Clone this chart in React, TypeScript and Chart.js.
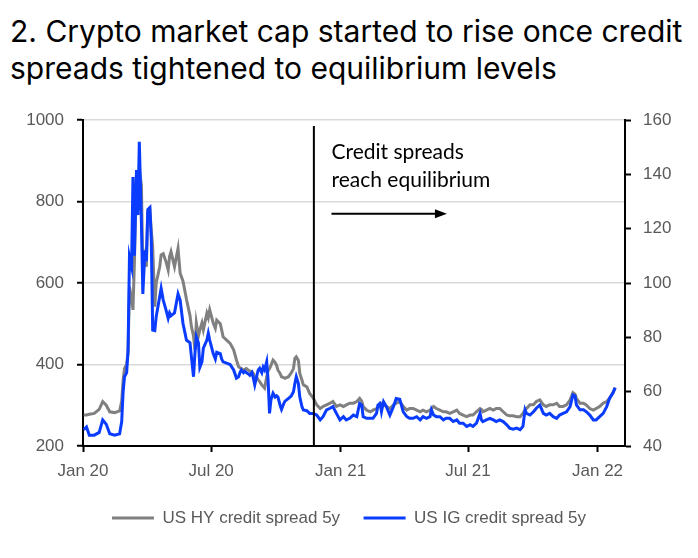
import React, { useEffect, useRef } from "react";
import { Chart, registerables } from "chart.js";

Chart.register(...registerables);

const TITLE_LINES = [
  "2. Crypto market cap started to rise once credit",
  "spreads tightened to equilibrium levels",
];
const HY_LABEL = "US HY credit spread 5y";
const IG_LABEL = "US IG credit spread 5y";

const dates = [
  "2020-01-02","2020-01-06","2020-01-10","2020-01-17","2020-01-24","2020-01-29","2020-02-03","2020-02-08",
  "2020-02-15","2020-02-22","2020-02-25","2020-02-27","2020-02-29","2020-03-03","2020-03-05","2020-03-07",
  "2020-03-10","2020-03-12","2020-03-14","2020-03-17","2020-03-19","2020-03-21","2020-03-24","2020-03-26",
  "2020-03-29","2020-03-31","2020-04-02","2020-04-05","2020-04-07","2020-04-09","2020-04-12","2020-04-14",
  "2020-04-19","2020-04-21","2020-04-24","2020-04-28","2020-05-01","2020-05-03","2020-05-05","2020-05-10",
  "2020-05-15","2020-05-18","2020-05-22","2020-05-27","2020-06-01","2020-06-03","2020-06-06","2020-06-08",
  "2020-06-10","2020-06-13","2020-06-15","2020-06-18","2020-06-20","2020-06-25","2020-06-27","2020-06-29",
  "2020-07-04","2020-07-07","2020-07-09","2020-07-14","2020-07-16","2020-07-18","2020-07-23","2020-07-28",
  "2020-08-02","2020-08-06","2020-08-09","2020-08-11","2020-08-13","2020-08-16","2020-08-18","2020-08-20",
  "2020-08-23","2020-08-25","2020-08-28","2020-08-30","2020-09-01","2020-09-04","2020-09-06","2020-09-08",
  "2020-09-11","2020-09-13","2020-09-15","2020-09-18","2020-09-20","2020-09-22","2020-09-24","2020-09-27",
  "2020-09-30","2020-10-02","2020-10-04","2020-10-07","2020-10-09","2020-10-12","2020-10-14","2020-10-19",
  "2020-10-21","2020-10-23","2020-10-26","2020-10-28","2020-10-30","2020-11-02","2020-11-04","2020-11-07",
  "2020-11-09","2020-11-14","2020-11-18","2020-11-23","2020-11-28","2020-12-03","2020-12-07","2020-12-12",
  "2020-12-17","2020-12-21","2020-12-26","2020-12-31","2021-01-05","2021-01-09","2021-01-14","2021-01-19",
  "2021-01-24","2021-01-28","2021-01-31","2021-02-02","2021-02-07","2021-02-12","2021-02-16","2021-02-21",
  "2021-02-23","2021-02-26","2021-02-28","2021-03-03","2021-03-07","2021-03-12","2021-03-17","2021-03-21",
  "2021-03-26","2021-03-31","2021-04-05","2021-04-09","2021-04-14","2021-04-19","2021-04-24","2021-04-28",
  "2021-05-03","2021-05-08","2021-05-10","2021-05-13","2021-05-17","2021-05-22","2021-05-27","2021-05-31",
  "2021-06-05","2021-06-10","2021-06-15","2021-06-19","2021-06-24","2021-06-29","2021-07-04","2021-07-08",
  "2021-07-13","2021-07-18","2021-07-20","2021-07-22","2021-07-27","2021-08-01","2021-08-06","2021-08-10",
  "2021-08-15","2021-08-20","2021-08-25","2021-08-29","2021-09-03","2021-09-08","2021-09-13","2021-09-17",
  "2021-09-20","2021-09-22","2021-09-27","2021-10-02","2021-10-06","2021-10-11","2021-10-16","2021-10-20",
  "2021-10-25","2021-10-30","2021-11-04","2021-11-08","2021-11-13","2021-11-18","2021-11-23","2021-11-27",
  "2021-11-30","2021-12-02","2021-12-07","2021-12-12","2021-12-16","2021-12-21","2021-12-26","2021-12-30",
  "2022-01-04","2022-01-09","2022-01-14","2022-01-18","2022-01-23","2022-01-26",
];

const hySpread = [
  276,276,278,280,290,309,300,284,
  282,286,310,362,390,400,430,591,
  560,534,649,870,800,877,840,632,
  665,640,772,780,730,689,542,600,
  640,669,672,652,632,665,677,640,
  685,624,605,560,520,493,470,436,
  502,470,485,502,485,526,515,534,
  502,489,509,500,485,468,460,452,
  436,411,395,392,390,386,388,390,
  386,384,382,378,370,368,362,358,
  350,346,342,370,385,390,398,411,
  405,398,386,378,370,368,366,370,
  375,380,390,415,419,410,378,362,
  350,345,329,318,301,292,297,301,
  305,309,297,301,297,301,305,305,
  309,317,310,297,288,284,288,292,
  295,305,303,301,297,292,301,305,
  309,297,288,292,292,288,284,288,
  284,288,292,297,292,288,284,284,
  280,284,288,280,276,272,276,276,
  284,292,290,284,288,292,288,292,
  292,284,276,274,274,272,272,280,
  288,292,301,301,309,313,301,297,
  301,301,305,297,297,301,313,331,
  327,317,305,305,301,292,288,292,
  297,305,309,317,331,343,
];

const igSpread = [
  46,47,44,44,45,49.6,48,44.5,
  44,44.5,49,60,65.5,67,75,109.7,
  106,139,110,141.6,125,152,122,96,
  112,108,127,127.8,116,82.7,82.5,87.6,
  95,98,93.7,90,87,89,88,89,
  96,93.7,85.2,79,78,72.9,65.5,74,
  80.2,78,69,71,76,79,81.5,79,
  74,72,74.5,74,72,71,70.5,70,
  68,65,65.5,67,68,67,67.5,67,
  66.5,66,67,65,62.5,66,68,68.6,
  67,69,68,71,64,52,57,59.4,
  58,58.5,58,55,53.5,55.5,56.5,57.5,
  58,58.5,60,63,65.5,63,58,54.5,
  53.3,53,52,52,51.4,49.6,50.8,53.3,
  53.9,54.5,52,49.6,50.8,49.6,50.2,51.4,
  50.8,55.7,55.1,50.8,50.2,50.2,50.2,52,
  55.1,55.7,52.6,56.3,54.5,51.4,54.5,57.5,
  57.2,52.6,50.8,50.2,50.2,50.8,49.6,50.8,
  50.2,50.8,53.3,51.4,50.8,50.8,49.6,50.2,
  50.2,49,49.6,48.4,48.4,47.2,47.8,47.2,
  48.4,52,49.6,49,49.6,50.2,49.6,49,
  49.6,49,47.8,46.6,46.2,46.6,46,47.2,
  53.3,52,51.4,52.6,53.9,55.1,52,51.4,
  52,50.8,50.2,51.4,52,52.6,54.5,58.8,
  58.4,55.1,53.3,53.3,52.6,51.4,49.6,49.6,
  50.8,52,54.5,57.5,59.6,61.5,
];

const X_TICK_DATES = ["2020-01-01", "2020-07-01", "2021-01-01", "2021-07-01", "2022-01-01"];
const X_TICK_LABELS = ["Jan 20", "Jul 20", "Jan 21", "Jul 21", "Jan 22"];
const X_START_DATE = "2020-01-01";
const X_END_DATE = "2022-02-09";
const LEFT_MIN = 200;
const LEFT_MAX = 1000;
const LEFT_STEP = 200;
const RIGHT_MIN = 40;
const RIGHT_MAX = 160;
const RIGHT_STEP = 20;

const EVENT_DATE = "2020-11-24";
const EVENT_TOP_VALUE = 985;
const NOTE_LINES = ["Credit spreads", "reach equilibrium"];
const NOTE_DATE = "2020-12-19";
const NOTE_VALUES = [922, 852];
const ARROW_VALUE = 770;
const ARROW_END_DATE = "2021-06-01";

const DAY_MS = 86400000;
const dayOf = (s: string) => (Date.parse(s) - Date.parse(X_START_DATE)) / DAY_MS;

const TICK_FONT = "'Liberation Sans', Arial, sans-serif";
const TICK_SIZE = 17;
const GREY_TEXT = "#595959";
const HY_COLOR = "#808080";
const IG_COLOR = "#0a3cff";

const notePlugin = {
  id: "equilibriumNote",
  afterDatasetsDraw(chart: any) {
    const { ctx } = chart;
    const xs = chart.scales.x;
    const ys = chart.scales.y;
    ctx.save();
    const xe = xs.getPixelForValue(dayOf(EVENT_DATE));
    ctx.strokeStyle = "#000";
    ctx.lineWidth = 2;
    ctx.beginPath();
    ctx.moveTo(xe, ys.getPixelForValue(EVENT_TOP_VALUE));
    ctx.lineTo(xe, ys.getPixelForValue(LEFT_MIN));
    ctx.stroke();

    const xa = xs.getPixelForValue(dayOf(NOTE_DATE));
    ctx.fillStyle = "#000";
    ctx.font = "21px Lato, 'Open Sans', sans-serif";
    ctx.textAlign = "left";
    ctx.textBaseline = "middle";
    NOTE_LINES.forEach((t, i) => ctx.fillText(t, xa, ys.getPixelForValue(NOTE_VALUES[i])));

    const ya = ys.getPixelForValue(ARROW_VALUE);
    const xb = xs.getPixelForValue(dayOf(ARROW_END_DATE));
    ctx.lineWidth = 2;
    ctx.beginPath();
    ctx.moveTo(xa, ya);
    ctx.lineTo(xb - 10, ya);
    ctx.stroke();
    ctx.beginPath();
    ctx.moveTo(xb, ya);
    ctx.lineTo(xb - 12, ya - 4.5);
    ctx.lineTo(xb - 12, ya + 4.5);
    ctx.closePath();
    ctx.fill();
    ctx.restore();
  },
};

export default function App() {
  const ref = useRef<HTMLCanvasElement | null>(null);

  useEffect(() => {
    if (!ref.current) return;
    const xVals = dates.map(dayOf);
    const chart = new Chart(ref.current, {
      type: "line",
      data: {
        datasets: [
          {
            label: HY_LABEL,
            data: xVals.map((x, i) => ({ x, y: hySpread[i] })),
            borderColor: HY_COLOR,
            backgroundColor: HY_COLOR,
            borderWidth: 3,
            pointRadius: 0,
            tension: 0,
            yAxisID: "y",
            order: 1,
          },
          {
            label: IG_LABEL,
            data: xVals.map((x, i) => ({ x, y: igSpread[i] })),
            borderColor: IG_COLOR,
            backgroundColor: IG_COLOR,
            borderWidth: 3,
            pointRadius: 0,
            tension: 0,
            yAxisID: "y1",
            order: 0,
          },
        ],
      },
      options: {
        animation: false,
        responsive: false,
        maintainAspectRatio: false,
        layout: { padding: { top: 24, left: 0, right: 0, bottom: 11.5 } },
        plugins: {
          tooltip: { enabled: false },
          legend: {
            position: "bottom",
            labels: {
              boxWidth: 42,
              boxHeight: 3,
              padding: 23.5,
              color: GREY_TEXT,
              font: { family: TICK_FONT, size: TICK_SIZE },
              generateLabels: (c: any) =>
                c.data.datasets.map((ds: any, i: number) => ({
                  text: ds.label,
                  fillStyle: ds.borderColor,
                  strokeStyle: ds.borderColor,
                  lineWidth: 0,
                  hidden: false,
                  datasetIndex: i,
                  fontColor: GREY_TEXT,
                })),
            },
          },
        },
        scales: {
          x: {
            type: "linear",
            min: 0,
            max: dayOf(X_END_DATE),
            afterBuildTicks: (scale: any) => {
              scale.ticks = X_TICK_DATES.map((d) => ({ value: dayOf(d) }));
            },
            afterFit: (scale: any) => {
              scale.height = 40;
            },
            ticks: {
              autoSkip: false,
              maxRotation: 0,
              padding: 9,
              color: GREY_TEXT,
              font: { family: TICK_FONT, size: TICK_SIZE },
              callback: (_v: any, i: number) => X_TICK_LABELS[i],
            },
            grid: {
              drawOnChartArea: false,
              tickLength: 6,
              tickColor: "#000",
              tickWidth: 2,
            },
            border: { color: "#000", width: 2 },
          },
          y: {
            position: "left",
            min: LEFT_MIN,
            max: LEFT_MAX,
            afterFit: (scale: any) => {
              scale.width = 75;
            },
            ticks: {
              stepSize: LEFT_STEP,
              padding: 13,
              color: GREY_TEXT,
              font: { family: TICK_FONT, size: TICK_SIZE },
              callback: (v: any) => String(v),
            },
            grid: {
              color: "#d9d9d9",
              lineWidth: 1.5,
              tickLength: 6,
              tickColor: "#000",
              tickWidth: 2,
            },
            border: { color: "#000", width: 2 },
          },
          y1: {
            position: "right",
            min: RIGHT_MIN,
            max: RIGHT_MAX,
            afterFit: (scale: any) => {
              scale.width = 65;
            },
            ticks: {
              stepSize: RIGHT_STEP,
              padding: 12,
              color: GREY_TEXT,
              font: { family: TICK_FONT, size: TICK_SIZE },
              callback: (v: any) => String(v),
            },
            grid: {
              drawOnChartArea: false,
              tickLength: 6,
              tickColor: "#000",
              tickWidth: 2,
            },
            border: { color: "#000", width: 2 },
          },
        },
      },
      plugins: [notePlugin],
    });
    return () => chart.destroy();
  }, []);

  return (
    <div style={{ position: "relative", width: 682, height: 542 }}>
      <div
        style={{
          position: "absolute",
          top: 5,
          left: 2,
          fontFamily: "Inter, 'Noto Sans', sans-serif",
          fontSize: 30,
          lineHeight: "37px",
          color: "#000",
          whiteSpace: "nowrap",
        }}
      >
        {TITLE_LINES.map((t) => (
          <div key={t}>{t}</div>
        ))}
      </div>
      <canvas
        ref={ref}
        width={682}
        height={452}
        style={{ position: "absolute", top: 88, left: 0, width: 682, height: 452 }}
      />
    </div>
  );
}
